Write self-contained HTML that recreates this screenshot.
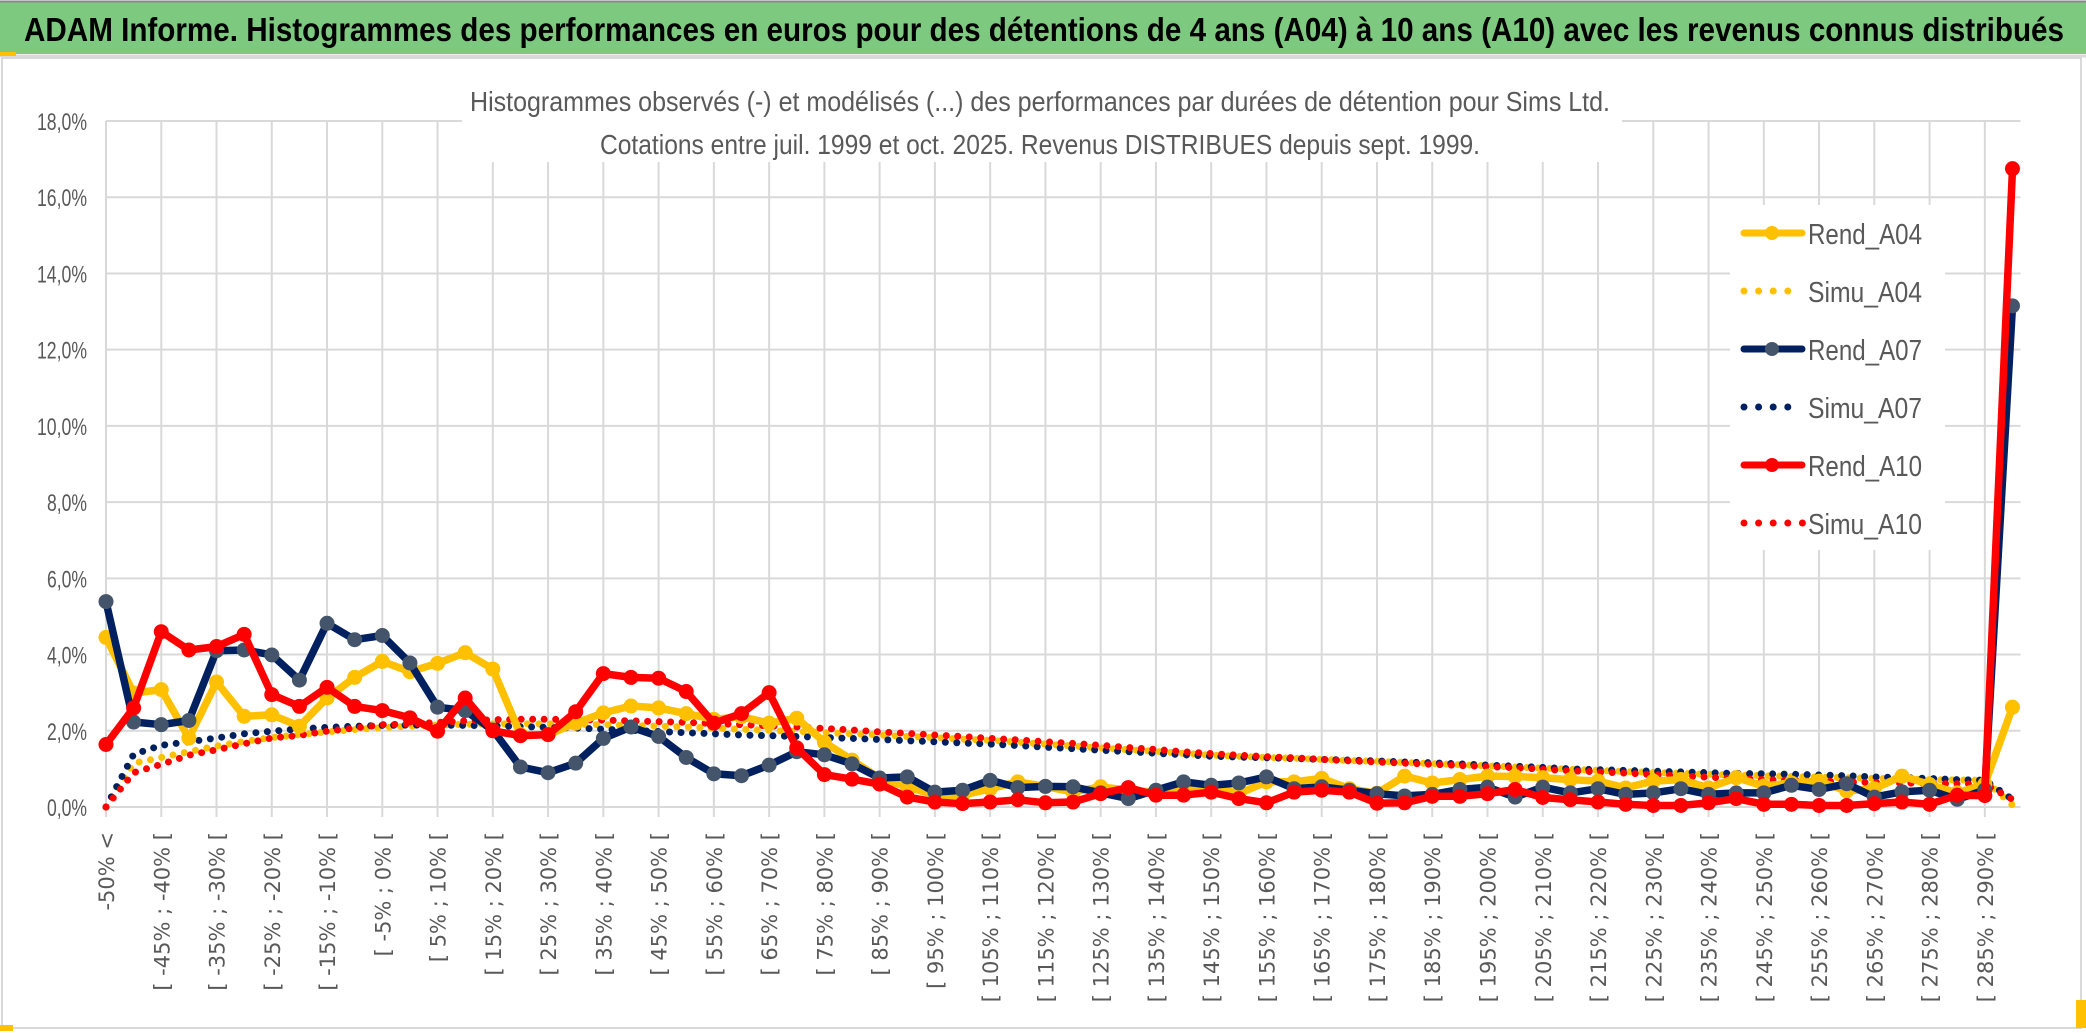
<!DOCTYPE html>
<html><head><meta charset="utf-8"><style>
html,body{margin:0;padding:0;background:#fff;}
svg{display:block;font-family:"Liberation Sans",sans-serif;}
</style></head><body>
<svg id="chart" width="2086" height="1033" viewBox="0 0 2086 1033" xmlns="http://www.w3.org/2000/svg">
<rect x="0" y="0" width="2086" height="1033" fill="#fff"/>
<rect x="0" y="2" width="2086" height="52" fill="#7DC97F"/>
<line x1="0" y1="1.5" x2="2086" y2="1.5" stroke="#888" stroke-width="2"/>
<line x1="0" y1="56" x2="2086" y2="56" stroke="#d9d9d9" stroke-width="3"/>
<text x="24" y="41" font-size="33" font-weight="bold" fill="#000" textLength="2040" lengthAdjust="spacingAndGlyphs">ADAM Informe. Histogrammes des performances en euros pour des détentions de 4 ans (A04) à 10 ans (A10) avec les revenus connus distribués</text>
<rect x="2" y="58" width="2079" height="970" fill="none" stroke="#d9d9d9" stroke-width="2"/>
<rect x="0" y="52" width="16" height="4" fill="#FFC000"/>
<rect x="0" y="1025" width="13" height="6" fill="#FFC000"/>
<rect x="2076" y="1000" width="10" height="28" fill="#FFC000"/>
<g id="grid"></g>
<rect x="462" y="112" width="1160" height="50" fill="#fff"/>
<text x="1040" y="111" font-size="28" fill="#595959" text-anchor="middle" textLength="1140" lengthAdjust="spacingAndGlyphs">Histogrammes observés (-) et modélisés (...) des performances par durées de détention pour Sims Ltd.</text>
<text x="1040" y="154" font-size="28" fill="#595959" text-anchor="middle" textLength="880" lengthAdjust="spacingAndGlyphs">Cotations entre juil. 1999 et oct. 2025. Revenus DISTRIBUES depuis sept. 1999.</text>
<g id="yaxis"></g>
<g id="xaxis"></g>
<rect x="1730" y="205" width="215" height="345" fill="#fff"/>
<g id="series"></g>
<g id="legend"></g>
</svg>
<script>
const categories = ["-50% <"];
for (let b = -50; b < 290; b += 5) categories.push("[ " + b + "% ; " + (b + 5) + "% [");
categories.push("> 290%");
const yTicks = [0, 2, 4, 6, 8, 10, 12, 14, 16, 18];
const yTickLabels = ["0,0%","2,0%","4,0%","6,0%","8,0%","10,0%","12,0%","14,0%","16,0%","18,0%"];
const rendA04 = [4.45,2.99,3.08,1.81,3.28,2.38,2.42,2.12,2.86,3.4,3.82,3.55,3.77,4.05,3.62,1.9,1.9,2.2,2.47,2.65,2.6,2.45,2.3,2.37,2.2,2.33,1.7,1.23,0.75,0.53,0.31,0.31,0.48,0.66,0.54,0.39,0.53,0.44,0.39,0.53,0.53,0.35,0.66,0.66,0.75,0.48,0.36,0.81,0.63,0.72,0.81,0.8,0.77,0.72,0.68,0.5,0.68,0.72,0.5,0.77,0.55,0.63,0.68,0.42,0.48,0.81,0.59,0.37,0.6,2.62];
const simuA04 = [0,1.15,1.3,1.45,1.6,1.72,1.82,1.9,1.97,2.03,2.08,2.12,2.15,2.17,2.18,2.18,2.18,2.17,2.16,2.14,2.12,2.1,2.07,2.04,2.01,1.98,1.95,1.92,1.89,1.85,1.82,1.78,1.75,1.7,1.65,1.6,1.55,1.5,1.46,1.41,1.36,1.33,1.3,1.28,1.25,1.22,1.2,1.17,1.14,1.11,1.08,1.05,1.02,0.99,0.96,0.93,0.91,0.88,0.86,0.84,0.82,0.8,0.78,0.77,0.75,0.74,0.72,0.71,0.7,0.05];
const rendA07 = [5.39,2.23,2.16,2.27,4.1,4.12,3.99,3.33,4.82,4.39,4.5,3.78,2.62,2.53,2.02,1.05,0.9,1.15,1.8,2.1,1.85,1.3,0.87,0.82,1.1,1.45,1.37,1.13,0.76,0.79,0.39,0.44,0.7,0.51,0.54,0.53,0.37,0.22,0.44,0.66,0.57,0.63,0.79,0.48,0.53,0.44,0.35,0.29,0.33,0.46,0.52,0.26,0.52,0.37,0.48,0.33,0.37,0.48,0.33,0.37,0.37,0.57,0.46,0.61,0.26,0.4,0.44,0.2,0.45,13.15];
const simuA07 = [0,1.38,1.62,1.71,1.81,1.92,1.99,2.05,2.09,2.12,2.14,2.15,2.15,2.14,2.13,2.11,2.09,2.07,2.04,2.01,1.98,1.95,1.92,1.89,1.87,1.85,1.82,1.8,1.77,1.74,1.71,1.68,1.65,1.61,1.57,1.53,1.49,1.45,1.41,1.37,1.33,1.31,1.29,1.27,1.25,1.23,1.21,1.18,1.16,1.13,1.1,1.07,1.04,1.0,0.98,0.96,0.94,0.92,0.9,0.88,0.87,0.86,0.84,0.82,0.79,0.77,0.75,0.72,0.7,0.2];
const rendA10 = [1.64,2.6,4.6,4.12,4.21,4.53,2.95,2.64,3.14,2.64,2.53,2.34,1.99,2.86,2.0,1.87,1.9,2.5,3.5,3.4,3.38,3.03,2.2,2.45,3.0,1.55,0.85,0.73,0.6,0.26,0.13,0.09,0.13,0.19,0.11,0.13,0.35,0.51,0.31,0.31,0.39,0.22,0.11,0.39,0.44,0.39,0.1,0.11,0.28,0.28,0.35,0.46,0.25,0.19,0.13,0.07,0.04,0.04,0.11,0.22,0.07,0.07,0.04,0.04,0.09,0.13,0.07,0.31,0.3,16.75];
const simuA10 = [0,0.9,1.12,1.36,1.5,1.66,1.81,1.88,1.99,2.07,2.16,2.18,2.22,2.26,2.29,2.3,2.3,2.29,2.28,2.26,2.24,2.22,2.19,2.16,2.13,2.1,2.06,2.02,1.97,1.93,1.89,1.85,1.8,1.76,1.71,1.67,1.62,1.56,1.51,1.45,1.4,1.36,1.32,1.29,1.25,1.21,1.18,1.15,1.12,1.09,1.06,1.03,0.99,0.95,0.92,0.89,0.85,0.82,0.78,0.75,0.72,0.7,0.68,0.66,0.64,0.63,0.62,0.61,0.6,0.2];
const seriesNames = ["Rend_A04","Simu_A04","Rend_A07","Simu_A07","Rend_A10","Simu_A10"];

const NS = "http://www.w3.org/2000/svg";
const X0 = 106, DX = 27.63, Y0 = 807, PER = 38.11;
function xPos(i){ return X0 + i * DX; }
function yPos(v){ return Y0 - v * PER; }
function mk(tag, attrs, parent){ const e = document.createElementNS(NS, tag); for (const k in attrs) e.setAttribute(k, attrs[k]); parent.appendChild(e); return e; }

const grid = document.getElementById('grid');
const xRight = xPos(categories.length - 1) + 8;
yTicks.forEach(function(t){
  const l = mk('line', {x1: X0, x2: xRight, y1: yPos(t), y2: yPos(t), stroke: '#d9d9d9', 'stroke-width': 2}, grid);
  
  
});
for (let i = 0; i < categories.length - 1; i += 2) {
  const l = mk('line', {x1: xPos(i), x2: xPos(i), y1: yPos(18), y2: Y0 + 10, stroke: '#d9d9d9', 'stroke-width': 2}, grid);
  
  
}
const yaxis = document.getElementById('yaxis');
yTicks.forEach(function(t, k){
  const tx = mk('text', {x: 87, y: yPos(t) + 9, 'font-size': 24, fill: '#595959', 'text-anchor': 'end', textLength: t >= 10 ? 50 : 40, lengthAdjust: 'spacingAndGlyphs'}, yaxis);
  tx.textContent = yTickLabels[k];
  
  
});
const xaxis = document.getElementById('xaxis');
for (let i = 0; i < categories.length - 1; i += 2) {
  const x = xPos(i) + 8, y = 832;
  const tx = mk('text', {x: x, y: y, 'font-size': 21, fill: '#595959', 'text-anchor': 'end', 'font-family': '"DejaVu Sans",sans-serif', transform: 'rotate(-90 ' + x + ' ' + y + ')'}, xaxis);
  tx.textContent = categories[i];
  
  
}

const series = document.getElementById('series');
function pts(arr){ return arr.map(function(v, i){ return xPos(i).toFixed(1) + ',' + yPos(v).toFixed(1); }).join(' '); }
function drawSimu(arr, color, name){
  const p = mk('polyline', {points: pts(arr), fill: 'none', stroke: color, 'stroke-width': 7, 'stroke-dasharray': '0 11.5', 'stroke-linecap': 'round'}, series);
  
  
}
function drawRend(arr, color, marker, name){
  const p = mk('polyline', {points: pts(arr), fill: 'none', stroke: color, 'stroke-width': 7.5, 'stroke-linejoin': 'round'}, series);
  
  
  arr.forEach(function(v, i){
    const c = mk('circle', {cx: xPos(i), cy: yPos(v), r: 7.5, fill: marker}, series);
    
    
  });
}
drawSimu(simuA04, '#FFC000', 'simu-a04-line');
drawSimu(simuA07, '#002060', 'simu-a07-line');
drawSimu(simuA10, '#FF0000', 'simu-a10-line');
drawRend(rendA04, '#FFC000', '#FFC000', 'rend-a04-line');
drawRend(rendA07, '#002060', '#44546A', 'rend-a07-line');
drawRend(rendA10, '#FF0000', '#FF0000', 'rend-a10-line');

const legend = document.getElementById('legend');
const legColors = ['#FFC000','#FFC000','#002060','#002060','#FF0000','#FF0000'];
const legMarkers = ['#FFC000',null,'#44546A',null,'#FF0000',null];
seriesNames.forEach(function(n, k){
  const y = 233 + k * 58;
  const g = mk('g', {}, legend);
  
  
  if (legMarkers[k]) {
    mk('line', {x1: 1744, x2: 1802, y1: y, y2: y, stroke: legColors[k], 'stroke-width': 7, 'stroke-linecap': 'round'}, g);
    mk('circle', {cx: 1772, cy: y, r: 7, fill: legMarkers[k]}, g);
  } else {
    const len = k === 5 ? 60 : 48;
    mk('line', {x1: 1744, x2: 1744 + len, y1: y, y2: y, stroke: legColors[k], 'stroke-width': 7, 'stroke-dasharray': '0 14.6', 'stroke-linecap': 'round'}, g);
  }
  const t = mk('text', {x: 1808, y: y + 11, 'font-size': 29, fill: '#595959', textLength: 114, lengthAdjust: 'spacingAndGlyphs'}, g);
  t.textContent = n;
});
</script>
</body></html>
